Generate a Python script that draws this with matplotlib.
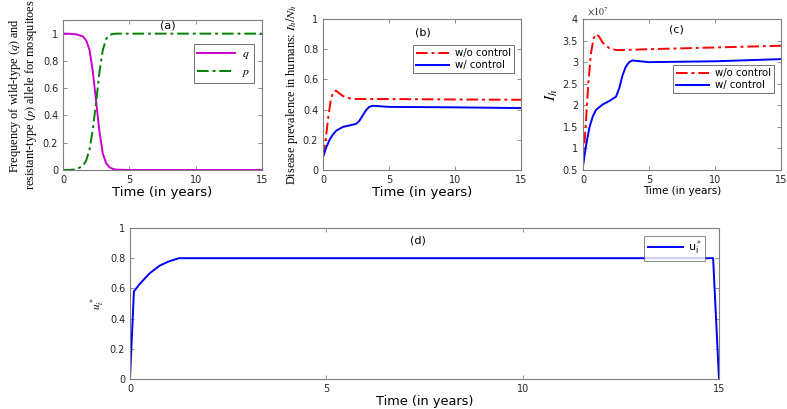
import matplotlib
matplotlib.use("Agg")
import matplotlib.pyplot as plt
import numpy as np

# ---- data ----
t_a = [0, 0.5, 1.0, 1.5, 1.75, 2.0, 2.25, 2.5, 2.75, 3.0, 3.25, 3.5, 3.75, 4.0, 5.0, 15.0]
q_vals = [1.0, 0.999, 0.995, 0.98, 0.95, 0.88, 0.72, 0.50, 0.28, 0.12, 0.05, 0.02, 0.008, 0.003, 0.0, 0.0]
p_vals = [0.0, 0.001, 0.005, 0.03, 0.07, 0.15, 0.30, 0.50, 0.72, 0.88, 0.96, 0.99, 0.997, 1.0, 1.0, 1.0]

t_b_wo = [0, 0.2, 0.4, 0.6, 0.8, 1.0, 1.2, 1.5, 2.0, 2.5, 5.0, 10.0, 15.0]
b_wo = [0.09, 0.20, 0.35, 0.47, 0.52, 0.525, 0.51, 0.49, 0.475, 0.47, 0.47, 0.467, 0.465]
t_b_w = [0, 0.25, 0.5, 0.75, 1.0, 1.5, 2.0, 2.5, 2.75, 3.0, 3.25, 3.5, 3.75, 4.0, 5.0, 10.0, 15.0]
b_w = [0.085, 0.15, 0.20, 0.235, 0.26, 0.285, 0.295, 0.305, 0.325, 0.36, 0.395, 0.418, 0.425, 0.424, 0.418, 0.415, 0.41]

t_c_wo = [0, 0.2, 0.4, 0.6, 0.8, 1.0, 1.2, 1.5, 2.0, 2.5, 3.0, 5.0, 10.0, 15.0]
c_wo = [0.6e7, 1.5e7, 2.5e7, 3.2e7, 3.55e7, 3.65e7, 3.6e7, 3.45e7, 3.32e7, 3.28e7, 3.28e7, 3.30e7, 3.34e7, 3.38e7]
t_c_w = [0, 0.25, 0.5, 0.75, 1.0, 1.5, 2.0, 2.5, 2.75, 3.0, 3.25, 3.5, 3.75, 4.0, 5.0, 10.0, 15.0]
c_w = [0.6e7, 1.1e7, 1.5e7, 1.75e7, 1.9e7, 2.02e7, 2.1e7, 2.2e7, 2.4e7, 2.7e7, 2.9e7, 3.0e7, 3.04e7, 3.03e7, 3.0e7, 3.02e7, 3.07e7]

t_d = [0, 0.1, 0.25, 0.5, 0.75, 1.0, 1.25, 14.85, 15.0]
u_vals = [0.0, 0.58, 0.63, 0.70, 0.75, 0.78, 0.80, 0.80, 0.0]

W, H = 787, 409
fig = plt.figure(figsize=(W / 100, H / 100), dpi=100)

def ax_px(l, t, r, b):
    return fig.add_axes([l / W, 1 - b / H, (r - l) / W, (b - t) / H])

frame_c = '#7f7f7f'
tick_c = '#262626'

def style(ax, fs=7):
    for s in ax.spines.values():
        s.set_color(frame_c)
        s.set_linewidth(0.8)
    ax.tick_params(direction='in', top=True, right=True, colors=frame_c,
                   labelcolor=tick_c, labelsize=fs, length=3, width=0.6)

serif = ['Liberation Serif', 'DejaVu Serif']
plt.rcParams['mathtext.fontset'] = 'stix'
dashdot = (0, (6, 2, 1.5, 2))

# (a)
ax = ax_px(63, 20, 262, 170)
ax.plot(t_a, q_vals, color='#cc00cc', lw=1.4, label='$q$')
ax.plot(t_a, p_vals, color='#008000', lw=1.4, ls=dashdot, label='$p$')
ax.set_xlim(0, 15); ax.set_ylim(0, 1.1)
ax.set_xticks([0, 5, 10, 15]); ax.set_yticks([0, 0.2, 0.4, 0.6, 0.8, 1.0])
ax.set_yticklabels(['0', '0.2', '0.4', '0.6', '0.8', '1'])
style(ax)
ax.text(7.9, 1.06, '(a)', ha='center', va='center', fontsize=8)
leg = ax.legend(loc='upper right', bbox_to_anchor=(0.99, 0.88), fontsize=8.5, handlelength=3.2,
                fancybox=False, borderpad=0.3, labelspacing=0.3, handletextpad=0.6)
leg.get_frame().set_edgecolor('#333333'); leg.get_frame().set_linewidth(0.6)
ax.set_xlabel('Time (in years)', fontsize=9.5, labelpad=1)
ax.set_ylabel('Frequency of wild-type $(q)$ and\nresistant-type $(p)$ allele for mosquitoes',
              fontsize=8.8, family=serif, labelpad=3, linespacing=1.0)

# (b)
ax = ax_px(323, 19, 521, 170)
ax.plot(t_b_wo, b_wo, color='red', lw=1.4, ls=dashdot, label='w/o control')
ax.plot(t_b_w, b_w, color='blue', lw=1.4, label='w/ control')
ax.set_xlim(0, 15); ax.set_ylim(0, 1)
ax.set_xticks([0, 5, 10, 15]); ax.set_yticks([0, 0.2, 0.4, 0.6, 0.8, 1.0])
ax.set_yticklabels(['0', '0.2', '0.4', '0.6', '0.8', '1'])
style(ax)
ax.text(7.6, 0.91, '(b)', ha='center', va='center', fontsize=8)
leg = ax.legend(loc='upper right', bbox_to_anchor=(0.99, 0.86), fontsize=7.3, handlelength=3.2,
                fancybox=False, borderpad=0.3, labelspacing=0.2, handletextpad=0.6)
leg.get_frame().set_edgecolor('#333333'); leg.get_frame().set_linewidth(0.6)
ax.set_xlabel('Time (in years)', fontsize=9.5, labelpad=1)
ax.set_ylabel('Disease prevalence in humans: $I_h/N_h$', fontsize=8.8, family=serif, labelpad=2)

# (c)
ax = ax_px(583, 19, 781, 170)
ax.plot(t_c_wo, c_wo, color='red', lw=1.4, ls=dashdot, label='w/o control')
ax.plot(t_c_w, c_w, color='blue', lw=1.4, label='w/ control')
ax.set_xlim(0, 15); ax.set_ylim(0.5e7, 4e7)
ax.set_xticks([0, 5, 10, 15])
yt = [0.5e7, 1e7, 1.5e7, 2e7, 2.5e7, 3e7, 3.5e7, 4e7]
ax.set_yticks(yt)
ax.set_yticklabels(['0.5', '1', '1.5', '2', '2.5', '3', '3.5', '4'])
style(ax)
ax.text(0.02, 1.005, r'$\times10^7$', transform=ax.transAxes, fontsize=7, color=tick_c,
        ha='left', va='bottom')
ax.text(7.1, 3.75e7, '(c)', ha='center', va='center', fontsize=8)
leg = ax.legend(loc='center right', bbox_to_anchor=(0.99, 0.6), fontsize=7.3, handlelength=3.2,
                fancybox=False, borderpad=0.3, labelspacing=0.2, handletextpad=0.6)
leg.get_frame().set_edgecolor('#333333'); leg.get_frame().set_linewidth(0.6)
ax.set_xlabel('Time (in years)', fontsize=7.5, labelpad=1)
ax.set_ylabel('$I_h$', fontsize=11, family=serif, labelpad=2)

# (d)
ax = ax_px(130, 228, 719, 379)
ax.plot(t_d, u_vals, color='blue', lw=1.4, label=r'u$_\mathregular{i}^*$')
ax.set_xlim(0, 15); ax.set_ylim(0, 1)
ax.set_xticks([0, 5, 10, 15]); ax.set_yticks([0, 0.2, 0.4, 0.6, 0.8, 1.0])
ax.set_yticklabels(['0', '0.2', '0.4', '0.6', '0.8', '1'])
style(ax)
ax.text(7.33, 0.92, '(d)', ha='center', va='center', fontsize=8)
leg = ax.legend(loc='upper right', bbox_to_anchor=(0.985, 0.985), fontsize=8, handlelength=3.2,
                fancybox=False, borderpad=0.3, handletextpad=0.4)
leg.get_frame().set_edgecolor('#555555'); leg.get_frame().set_linewidth(0.6)
ax.set_xlabel('Time (in years)', fontsize=9.3, labelpad=1)
ax.set_ylabel('$u_i^*$', fontsize=8, family=serif, labelpad=2)

fig.savefig('out.png', dpi=100)
